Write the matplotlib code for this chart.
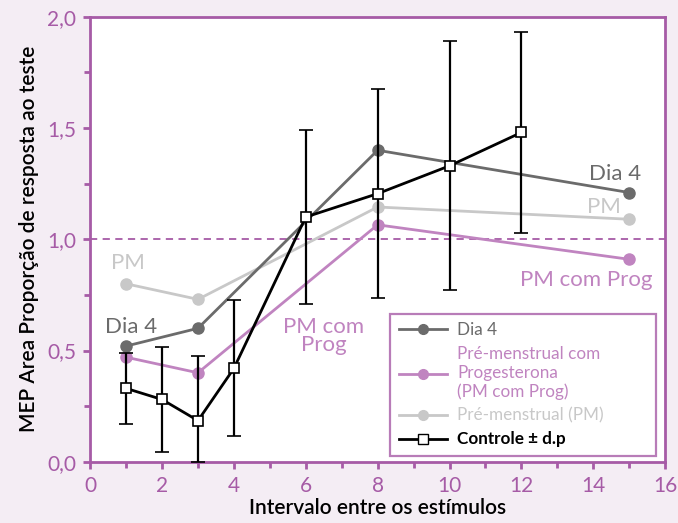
import matplotlib
matplotlib.use("Agg")
import matplotlib.pyplot as plt
from matplotlib.lines import Line2D
from matplotlib.ticker import MultipleLocator, FuncFormatter

plt.rcParams["font.family"] = ["Lato", "DejaVu Sans"]

PURPLE = "#a65ba6"
PINK = "#c084c0"
DARK = "#6b6b6b"
LIGHT = "#c8c8c8"

x_groups = [1, 3, 8, 15]
dia4 = [0.52, 0.60, 1.40, 1.21]
pm_prog = [0.47, 0.40, 1.065, 0.91]
pm = [0.80, 0.73, 1.145, 1.09]

x_ctrl = [1, 2, 3, 4, 6, 8, 10, 12]
controle = [0.33, 0.28, 0.185, 0.42, 1.10, 1.205, 1.33, 1.48]
controle_sd = [0.16, 0.235, 0.29, 0.305, 0.39, 0.47, 0.56, 0.45]

fig = plt.figure(figsize=(6.78, 5.23), dpi=100)
fig.patch.set_facecolor("#f4edf4")
ax = fig.add_axes([0.133, 0.117, 0.848, 0.851])
ax.set_facecolor("white")

ax.axhline(1.0, color=PURPLE, lw=1.3, ls=(0, (4, 3)), zorder=1)

ax.plot(x_groups, pm, color=LIGHT, lw=2, marker="o", ms=8, zorder=2)
ax.plot(x_groups, pm_prog, color=PINK, lw=2, marker="o", ms=8, zorder=3)
ax.plot(x_groups, dia4, color=DARK, lw=2, marker="o", ms=8, zorder=4)

# clip the lower error bar at zero
lower = [min(s, v) for v, s in zip(controle, controle_sd)]
ax.errorbar(x_ctrl, controle, yerr=[lower, controle_sd], color="black", lw=2,
            elinewidth=1.6, capsize=5, capthick=1.6, marker="s", ms=7,
            mfc="white", mec="black", mew=1.2, zorder=5)

ax.set_xlim(0, 16)
ax.set_ylim(0, 2.0)
ax.xaxis.set_major_locator(MultipleLocator(2))
ax.xaxis.set_minor_locator(MultipleLocator(1))
ax.yaxis.set_major_locator(MultipleLocator(0.5))
ax.yaxis.set_minor_locator(MultipleLocator(0.25))
ax.yaxis.set_major_formatter(FuncFormatter(lambda v, p: f"{v:.1f}".replace(".", ",")))

for s in ax.spines.values():
    s.set_color(PURPLE)
    s.set_linewidth(2)
ax.tick_params(which="both", direction="out", color=PURPLE, width=2,
               labelcolor=PURPLE, labelsize=15)
ax.tick_params(which="major", length=5, pad=5)
ax.tick_params(which="minor", length=4)

ax.set_xlabel("Intervalo entre os estímulos", fontsize=15, fontweight="semibold",
              labelpad=2)
ax.set_ylabel("MEP Area Proporção de resposta ao teste", fontsize=15,
              fontweight="semibold", labelpad=6)

ax.text(1.15, 0.56, "Dia 4", color=DARK, fontsize=16, ha="center", va="bottom")
ax.text(1.05, 0.85, "PM", color=LIGHT, fontsize=16, ha="center", va="bottom")
ax.text(6.5, 0.48, "PM com\nProg", color=PINK, fontsize=16, ha="center",
        va="bottom", linespacing=0.9)
ax.text(14.6, 1.25, "Dia 4", color=DARK, fontsize=16, ha="center", va="bottom")
ax.text(14.3, 1.1, "PM", color=LIGHT, fontsize=16, ha="center", va="bottom")
ax.text(13.8, 0.77, "PM com Prog", color=PINK, fontsize=16, ha="center", va="bottom")

handles = [
    Line2D([], [], color=DARK, lw=2, marker="o", ms=7),
    Line2D([], [], color=PINK, lw=2, marker="o", ms=7),
    Line2D([], [], color=LIGHT, lw=2, marker="o", ms=7),
    Line2D([], [], color="black", lw=2, marker="s", ms=7, mfc="white", mec="black"),
]
labels = ["Dia 4", "Pré-menstrual com\nProgesterona\n(PM com Prog)",
          "Pré-menstrual (PM)", "Controle ± d.p"]
leg = ax.legend(handles, labels, loc="lower left",
                bbox_to_anchor=(0.522, 0.013, 0.463, 0.3), mode="expand",
                fontsize=12.3, frameon=True, fancybox=False, borderpad=0.5,
                borderaxespad=0, handlelength=2.8, labelspacing=0.45,
                handletextpad=0.6, labelcolor=[DARK, PINK, LIGHT, "black"])
leg.get_frame().set_edgecolor(PURPLE)
leg.get_frame().set_linewidth(1.6)
leg.get_texts()[3].set_fontweight("bold")

fig.savefig("out.png", dpi=100, facecolor=fig.get_facecolor())
